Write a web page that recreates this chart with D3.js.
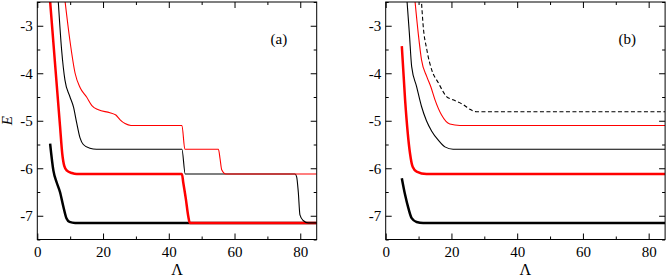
<!DOCTYPE html>
<html>
<head>
<meta charset="utf-8">
<script src="https://cdn.jsdelivr.net/npm/d3@7"></script>
<style>
  body { margin: 0; background: #fff; }
</style>
</head>
<body>
<div id="chart"></div>
<script>
// Tick values
const xMajor = [0, 20, 40, 60, 80];
const xMinor = [10, 30, 50, 70];
const yMajor = [-7, -6, -5, -4, -3];
const yMinor = [-7.5, -6.5, -5.5, -4.5, -3.5, -2.5];

// Panel (a) curves, [Lambda, E]
const aBlackThick = [[3.9,-5.48],[4.9,-6.05],[5.9,-6.3],[6.9,-6.5],[7.9,-6.8],[8.9,-7.06],[9.8,-7.13],[11.5,-7.15],[85,-7.15]];
const aRedThick = [[3.8,-2.4],[5.4,-3.8],[6.9,-5.1],[7.6,-5.7],[8.2,-5.95],[9,-6.05],[10.5,-6.1],[12,-6.12],[44,-6.12],[44.4,-6.3],[45.2,-6.65],[45.9,-7.0],[46.4,-7.15],[85,-7.15]];
const aBlackThin = [[6.3,-2.4],[7.4,-3.51],[8.4,-4.14],[9.9,-4.49],[11,-4.71],[12,-5.05],[13,-5.36],[14,-5.5],[16,-5.58],[18,-5.6],[44,-5.6],[45,-6.12],[78.4,-6.12],[78.9,-6.18],[79.4,-6.5],[79.9,-6.98],[80.9,-7.1],[82.4,-7.15],[85,-7.15]];
const aRedThin = [[8.3,-2.4],[9.9,-3.3],[11.5,-4.0],[13,-4.3],[15,-4.5],[16.6,-4.68],[18.6,-4.77],[22.1,-4.83],[23.9,-4.88],[25.2,-4.98],[26.7,-5.06],[28.5,-5.1],[44,-5.1],[44.9,-5.6],[55.1,-5.6],[55.6,-5.8],[56.1,-6.03],[57.4,-6.12],[85,-6.12]];

// Panel (b) curves
const bBlackThick = [[4.9,-6.21],[5.9,-6.56],[6.9,-6.84],[7.9,-7.05],[9.4,-7.13],[11.4,-7.15],[85,-7.15]];
const bRedThick = [[4.9,-3.43],[5.9,-4.56],[7.4,-5.69],[8.2,-5.97],[9.4,-6.07],[12.4,-6.12],[85,-6.12]];
const bBlackThin = [[6.4,-2.4],[7.2,-3.16],[7.9,-3.86],[9.4,-4.28],[10.9,-4.7],[12.4,-5.0],[14,-5.22],[16,-5.41],[18,-5.55],[20.5,-5.6],[85,-5.6]];
const bRedThin = [[8.8,-2.4],[9.9,-3.16],[10.9,-3.72],[12.5,-4.07],[13.7,-4.28],[15,-4.56],[17,-4.88],[19.5,-5.07],[22.6,-5.1],[85,-5.1]];
const bBlackDash = [[10.8,-2.4],[11.4,-3.0],[12.5,-3.5],[14,-3.93],[16,-4.2],[18.5,-4.49],[20.5,-4.56],[23.6,-4.66],[25.6,-4.76],[27.6,-4.81],[85,-4.81]];

const panels = [
    {id: "a", left: 37.3, label: "(a)", series: [
        {data: aBlackThick, color: "#000", width: 2.5},
        {data: aRedThick, color: "#ff0000", width: 2.5},
        {data: aBlackThin, color: "#000", width: 1.1},
        {data: aRedThin, color: "#ff0000", width: 1.1}
    ]},
    {id: "b", left: 385.7, label: "(b)", series: [
        {data: bBlackThick, color: "#000", width: 2.5},
        {data: bRedThick, color: "#ff0000", width: 2.5},
        {data: bBlackThin, color: "#000", width: 1.1},
        {data: bRedThin, color: "#ff0000", width: 1.1},
        {data: bBlackDash, color: "#000", width: 1.1, dash: "4,2.5"}
    ]}
];

const serif = '"Liberation Serif", "Times New Roman", Times, "DejaVu Serif", serif';

const top0 = 2,
      width = 279.4,
      height = 237.5;

const svg = d3.select("#chart")
    .append("svg")
    .attr("width", 668)
    .attr("height", 276);

const x = d3.scaleLinear().domain([0, 85]).range([0, width]);
const y = d3.scaleLinear().domain([-7.5, -2.5]).range([height, 0]);

const line = d3.line()
    .x(d => x(d[0]))
    .y(d => y(d[1]))
    .curve(d3.curveMonotoneX);

panels.forEach(p => {
    const g = svg.append("g")
        .attr("transform", `translate(${p.left},${top0})`);

    g.append("clipPath")
        .attr("id", `clip-${p.id}`)
        .append("rect")
        .attr("width", width)
        .attr("height", height);

    // ticks, all pointing inward
    const tickAxes = [
        {ax: d3.axisBottom, pos: `translate(0,${height})`, sc: x, major: xMajor, minor: xMinor, labels: true},
        {ax: d3.axisTop, pos: "translate(0,0)", sc: x, major: xMajor, minor: xMinor, labels: false},
        {ax: d3.axisLeft, pos: "translate(0,0)", sc: y, major: yMajor, minor: yMinor, labels: true},
        {ax: d3.axisRight, pos: `translate(${width},0)`, sc: y, major: yMajor, minor: yMinor, labels: false}
    ];

    tickAxes.forEach(t => {
        const isX = t.sc === x;
        g.append("g")
            .attr("transform", t.pos)
            .call(t.ax(t.sc).tickValues(t.major).tickSizeInner(-6).tickSizeOuter(0)
                .tickPadding(isX ? 7 : 4.5)
                .tickFormat(t.labels ? d3.format("d") : ""))
            .call(a => a.select(".domain").remove())
            .call(a => a.selectAll("text")
                .style("font-family", serif)
                .style("font-size", "15px")
                .attr("fill", "#000")
                .text(d => t.labels ? String(d) : ""));

        g.append("g")
            .attr("transform", t.pos)
            .call(t.ax(t.sc).tickValues(t.minor).tickSizeInner(-3).tickSizeOuter(0).tickFormat(""))
            .call(a => a.select(".domain").remove());
    });

    const curves = g.append("g")
        .attr("clip-path", `url(#clip-${p.id})`);

    curves.selectAll("path")
        .data(p.series)
        .enter().append("path")
        .attr("fill", "none")
        .attr("stroke", d => d.color)
        .attr("stroke-width", d => d.width)
        .attr("stroke-dasharray", d => d.dash || null)
        .attr("stroke-linejoin", "round")
        .attr("d", d => line(d.data));

    // frame
    g.append("rect")
        .attr("width", width)
        .attr("height", height)
        .attr("fill", "none")
        .attr("stroke", "#000")
        .attr("stroke-width", 1);

    g.append("text")
        .attr("x", x(73.5))
        .attr("y", 42)
        .attr("text-anchor", "middle")
        .style("font-family", serif)
        .style("font-size", "15px")
        .text(p.label);

    g.append("text")
        .attr("x", width / 2)
        .attr("y", height + 35)
        .attr("text-anchor", "middle")
        .style("font-family", serif)
        .style("font-size", "16px")
        .text("\u039B");
});

// y axis title on the left panel
svg.append("text")
    .attr("transform", `translate(12,${top0 + height / 2}) rotate(-90)`)
    .attr("text-anchor", "middle")
    .style("font-family", serif)
    .style("font-size", "15px")
    .style("font-style", "italic")
    .text("E");
</script>
</body>
</html>
